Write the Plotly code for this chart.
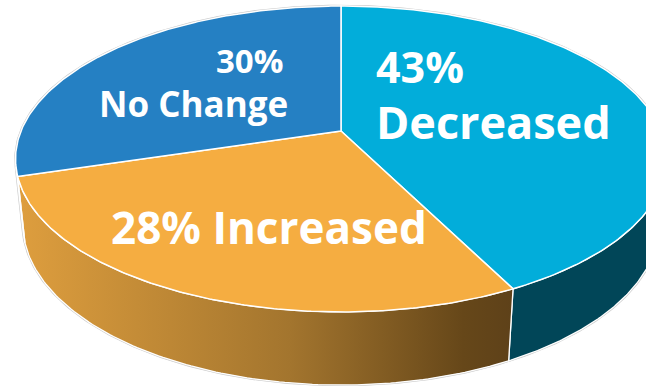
import numpy as np
import plotly.graph_objects as go

# ---- data -------------------------------------------------------------
labels = ["Decreased", "Increased", "No Change"]
values = [43, 28, 30]
top_colors = ["#02ADDA", "#F5AD41", "#2580C3"]
side_colors = ["#014658", "#A3752E", "#1A5B8C"]
# horizontal shading of the Increased slice wall (light left -> dark right)
increased_wall_scale = [[0.0, "#DE9E3E"], [0.55, "#A3752E"],
                        [0.9, "#664719"], [1.0, "#5E4119"]]

# ---- perspective camera for the tilted disc ------------------------------
W, H = 646, 386
CX, CY = 341.0, 131.0          # screen position of the disc centre
FOCAL = 1552.0
DIST = 4.85
ELEV = np.arcsin(0.462)
THICK = 0.23                   # disc thickness (radius = 1)


def project(theta, z=0.0, r=1.0):
    """theta measured clockwise from 12 o'clock."""
    X = r * np.sin(theta)
    Y = r * np.cos(theta)
    up = Y * np.sin(ELEV) + z * np.cos(ELEV)
    depth = DIST + Y * np.cos(ELEV) - z * np.sin(ELEV)
    return CX + FOCAL * X / depth, CY - FOCAL * up / depth


# wall faces the camera where cos(theta) < -1 / (DIST * cos(ELEV))
vis_lo = np.arccos(-1.0 / (DIST * np.cos(ELEV)))
vis_hi = 2 * np.pi - vis_lo

total = float(sum(values))
bounds = np.concatenate([[0.0], np.cumsum(values) / total * 2 * np.pi])

fig = go.Figure()

# soft grey silhouette outline
t_back = np.linspace(vis_hi, vis_lo + 2 * np.pi, 200)
t_front = np.linspace(vis_lo, vis_hi, 200)
bx, by = project(t_back, 0.0)
fx, fy = project(t_front, -THICK)
sil_x = np.concatenate([bx, fx, bx[:1]])
sil_y = np.concatenate([by, fy, by[:1]])
fig.add_trace(go.Scatter(x=sil_x, y=sil_y, mode="lines", fill="toself",
                         fillcolor="white",
                         line=dict(color="#C9C9C9", width=2.5),
                         hoverinfo="skip"))

# side walls (only the part turned toward the viewer)
for i, lab in enumerate(labels):
    a, b = bounds[i], bounds[i + 1]
    lo, hi = max(a, vis_lo), min(b, vis_hi)
    if lo >= hi:
        continue
    t = np.linspace(lo, hi, 120)
    tx, ty = project(t, 0.0)
    wx, wy = project(t[::-1], -THICK)
    px = np.concatenate([tx, wx, tx[:1]])
    py = np.concatenate([ty, wy, ty[:1]])
    kw = dict(fillcolor=side_colors[i])
    if lab == "Increased":
        kw = dict(fillgradient=dict(type="horizontal",
                                    colorscale=increased_wall_scale))
    fig.add_trace(go.Scatter(x=px, y=py, mode="lines", fill="toself",
                             line=dict(color="white", width=1.3),
                             hoverinfo="skip", **kw))

# top faces
cx0, cy0 = project(0.0, 0.0, 0.0)
for i, lab in enumerate(labels):
    t = np.linspace(bounds[i], bounds[i + 1], 200)
    ax_, ay_ = project(t, 0.0)
    px = np.concatenate([[cx0], ax_, [cx0]])
    py = np.concatenate([[cy0], ay_, [cy0]])
    fig.add_trace(go.Scatter(x=px, y=py, mode="lines", fill="toself",
                             fillcolor=top_colors[i],
                             line=dict(color="white", width=1.5),
                             name=lab, hoverinfo="name"))

# labels
pct = {lab: f"{v}%" for lab, v in zip(labels, values)}
label_font = dict(family="Open Sans", color="white", weight=700)
texts = [
    (pct["No Change"], 214, 60, 33),
    ("No Change", 97, 103, 35),
    (pct["Decreased"], 374, 66, 43),
    ("Decreased", 374, 121, 45),
    (f'{pct["Increased"]} Increased', 109, 227, 44),
]
for txt, x, y, size in texts:
    fig.add_annotation(x=x, y=y, text=txt, showarrow=False,
                       xanchor="left", yanchor="middle",
                       font=dict(size=size, **label_font))

fig.update_xaxes(range=[0, W], visible=False, fixedrange=True)
fig.update_yaxes(range=[H, 0], visible=False, fixedrange=True)
fig.update_layout(width=W, height=H, margin=dict(l=0, r=0, t=0, b=0),
                  paper_bgcolor="white", plot_bgcolor="white",
                  showlegend=False)

fig.write_html("out.html")
